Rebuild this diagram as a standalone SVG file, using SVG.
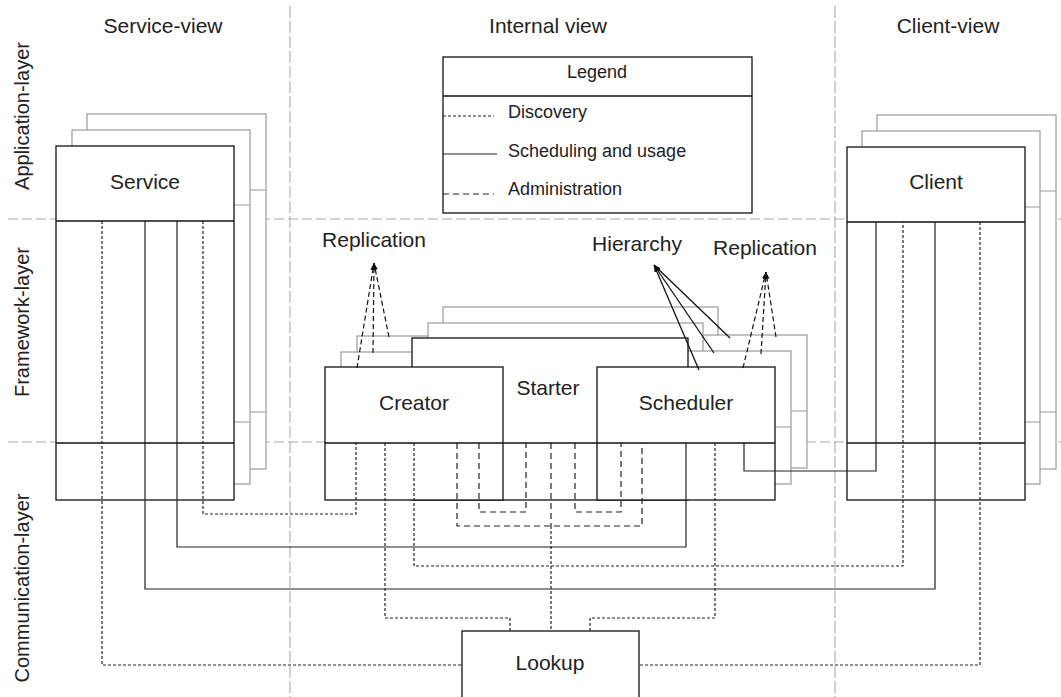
<svg xmlns="http://www.w3.org/2000/svg" width="1061" height="697" viewBox="0 0 1061 697">
<style>
text{font-family:"Liberation Sans",Arial,sans-serif;fill:#222}
.lbl{font-size:21px;text-anchor:middle}
.leg{font-size:18px}
.grid{stroke:#aaa;stroke-width:1.1;fill:none}
.gh{stroke-dasharray:10,4}
.gv{stroke-dasharray:12,3}
.box{fill:#fff;stroke:#111;stroke-width:1.3}
.back{fill:#fff;stroke:#999;stroke-width:1.2}
.bdiv{stroke:#999;stroke-width:1.2}
.div{stroke:#111;stroke-width:1.3}
.disc{fill:none;stroke:#222;stroke-width:1.2;stroke-dasharray:3,2}
.sched{fill:none;stroke:#222;stroke-width:1.2}
.admin{fill:none;stroke:#222;stroke-width:1.2;stroke-dasharray:6,4}
.rep{fill:none;stroke:#111;stroke-width:1.2;stroke-dasharray:5,3}
.hier{fill:none;stroke:#111;stroke-width:1.3}
</style>
<defs>
<marker id="ah" markerUnits="userSpaceOnUse" markerWidth="7" markerHeight="5" refX="7" refY="2.5" orient="auto">
<path d="M0,0 L7,2.5 L0,5 z" fill="#111"/>
</marker>
</defs>
<rect width="1061" height="697" fill="#fff"/>

<g id="grid">
<line class="grid gh" x1="8" y1="219" x2="1061" y2="219"/>
<line class="grid gh" x1="8" y1="442" x2="1061" y2="442"/>
<line class="grid gv" x1="290" y1="6" x2="290" y2="697"/>
<line class="grid gv" x1="835" y1="6" x2="835" y2="697"/>
</g>

<g id="headers">
<text class="lbl" x="163" y="33">Service-view</text>
<text class="lbl" x="548" y="33">Internal view</text>
<text class="lbl" x="948" y="33">Client-view</text>
<text class="lbl" style="font-size:20px" transform="translate(29,116) rotate(-90)">Application-layer</text>
<text class="lbl" style="font-size:20px" transform="translate(29,322) rotate(-90)">Framework-layer</text>
<text class="lbl" style="font-size:20px" transform="translate(29,588) rotate(-90)">Communication-layer</text>
</g>

<g id="legend">
<rect class="box" x="443" y="57" width="309" height="156"/>
<line class="div" x1="443" y1="96" x2="752" y2="96"/>
<text class="leg" x="597" y="78" text-anchor="middle">Legend</text>
<line class="disc" x1="443" y1="116" x2="494" y2="116"/>
<text class="leg" x="508" y="118">Discovery</text>
<line class="sched" x1="443" y1="154" x2="497" y2="154"/>
<text class="leg" x="508" y="157">Scheduling and usage</text>
<line class="admin" x1="443" y1="194" x2="494" y2="194"/>
<text class="leg" x="508" y="195">Administration</text>
</g>

<g id="service">
<rect class="back" x="87" y="114" width="179" height="355"/>
<line class="bdiv" x1="87" y1="190" x2="266" y2="190"/>
<line class="bdiv" x1="87" y1="412" x2="266" y2="412"/>
<rect class="back" x="72" y="130" width="178" height="354"/>
<line class="bdiv" x1="72" y1="205" x2="250" y2="205"/>
<line class="bdiv" x1="72" y1="422" x2="250" y2="422"/>
<rect class="box" x="56" y="146" width="178" height="354"/>
<line class="div" x1="56" y1="221" x2="234" y2="221"/>
<line class="div" x1="56" y1="443" x2="234" y2="443"/>
<text class="lbl" x="145" y="189">Service</text>
</g>

<g id="client">
<rect class="back" x="877" y="115" width="179" height="354"/>
<line class="bdiv" x1="877" y1="191" x2="1056" y2="191"/>
<line class="bdiv" x1="877" y1="412" x2="1056" y2="412"/>
<rect class="back" x="862" y="131" width="178" height="353"/>
<line class="bdiv" x1="862" y1="207" x2="1040" y2="207"/>
<line class="bdiv" x1="862" y1="422" x2="1040" y2="422"/>
<rect class="box" x="847" y="147" width="178" height="353"/>
<line class="div" x1="847" y1="222" x2="1025" y2="222"/>
<line class="div" x1="847" y1="443" x2="1025" y2="443"/>
<text class="lbl" x="936" y="189">Client</text>
</g>

<g id="internal-back">
<rect class="back" x="443" y="307" width="275" height="161"/>
<rect class="back" x="357" y="336" width="178" height="132"/>
<rect class="back" x="629" y="335" width="178" height="133"/>
<line class="bdiv" x1="629" y1="411" x2="807" y2="411"/>
<rect class="back" x="428" y="323" width="275" height="161"/>
<rect class="back" x="341" y="352" width="178" height="132"/>
<rect class="back" x="613" y="351" width="178" height="133"/>
<line class="bdiv" x1="613" y1="427" x2="791" y2="427"/>
</g>

<g id="starter">
<rect class="box" x="412" y="338" width="276" height="162"/>
<text class="lbl" x="548" y="395">Starter</text>
</g>
<g id="creator">
<rect class="box" x="325" y="367" width="178" height="133"/>
<text class="lbl" x="414" y="410">Creator</text>
</g>
<g id="scheduler">
<rect class="box" x="597" y="367" width="178" height="133"/>
<text class="lbl" x="686" y="410">Scheduler</text>
</g>
<line class="div" x1="325" y1="443" x2="775" y2="443"/>

<g id="lookup">
<rect class="box" x="462" y="631" width="177" height="80"/>
<text class="lbl" x="550" y="670">Lookup</text>
</g>

<g id="annotations">
<text class="lbl" x="374" y="247">Replication</text>
<text class="lbl" x="637" y="251">Hierarchy</text>
<text class="lbl" x="765" y="255">Replication</text>
<line class="rep" x1="357" y1="368" x2="374" y2="263" marker-end="url(#ah)"/>
<line class="rep" x1="373" y1="353" x2="374" y2="263" marker-end="url(#ah)"/>
<line class="rep" x1="389" y1="337" x2="374" y2="263" marker-end="url(#ah)"/>
<line class="rep" x1="743" y1="368" x2="766" y2="272" marker-end="url(#ah)"/>
<line class="rep" x1="761" y1="354" x2="766" y2="272" marker-end="url(#ah)"/>
<line class="rep" x1="776" y1="337" x2="766" y2="272" marker-end="url(#ah)"/>
<line class="hier" x1="699" y1="370" x2="654" y2="265" marker-end="url(#ah)"/>
<line class="hier" x1="714" y1="353" x2="654" y2="265" marker-end="url(#ah)"/>
<line class="hier" x1="730" y1="338" x2="654" y2="265" marker-end="url(#ah)"/>
</g>

<g id="connectors">
<path class="disc" d="M102,221 V665 H462"/>
<path class="sched" d="M145,221 V589 H935 V222"/>
<path class="sched" d="M177,221 V547 H686 V443"/>
<path class="disc" d="M203,221 V514 H356 V443"/>
<path class="disc" d="M385,443 V618 H510 V631"/>
<path class="disc" d="M414,443 V566 H903 V222"/>
<path class="admin" d="M457,443 V526 H642 V443"/>
<path class="admin" d="M479,443 V512 H526 V443"/>
<path class="admin" d="M575,443 V512 H621 V443"/>
<path class="admin" d="M551,443 V526"/>
<path class="disc" d="M551,526 V631"/>
<path class="disc" d="M715,443 V618 H590 V631"/>
<path class="sched" d="M744,443 V471 H876 V222"/>
<path class="disc" d="M980,222 V665 H639"/>
</g>
</svg>
